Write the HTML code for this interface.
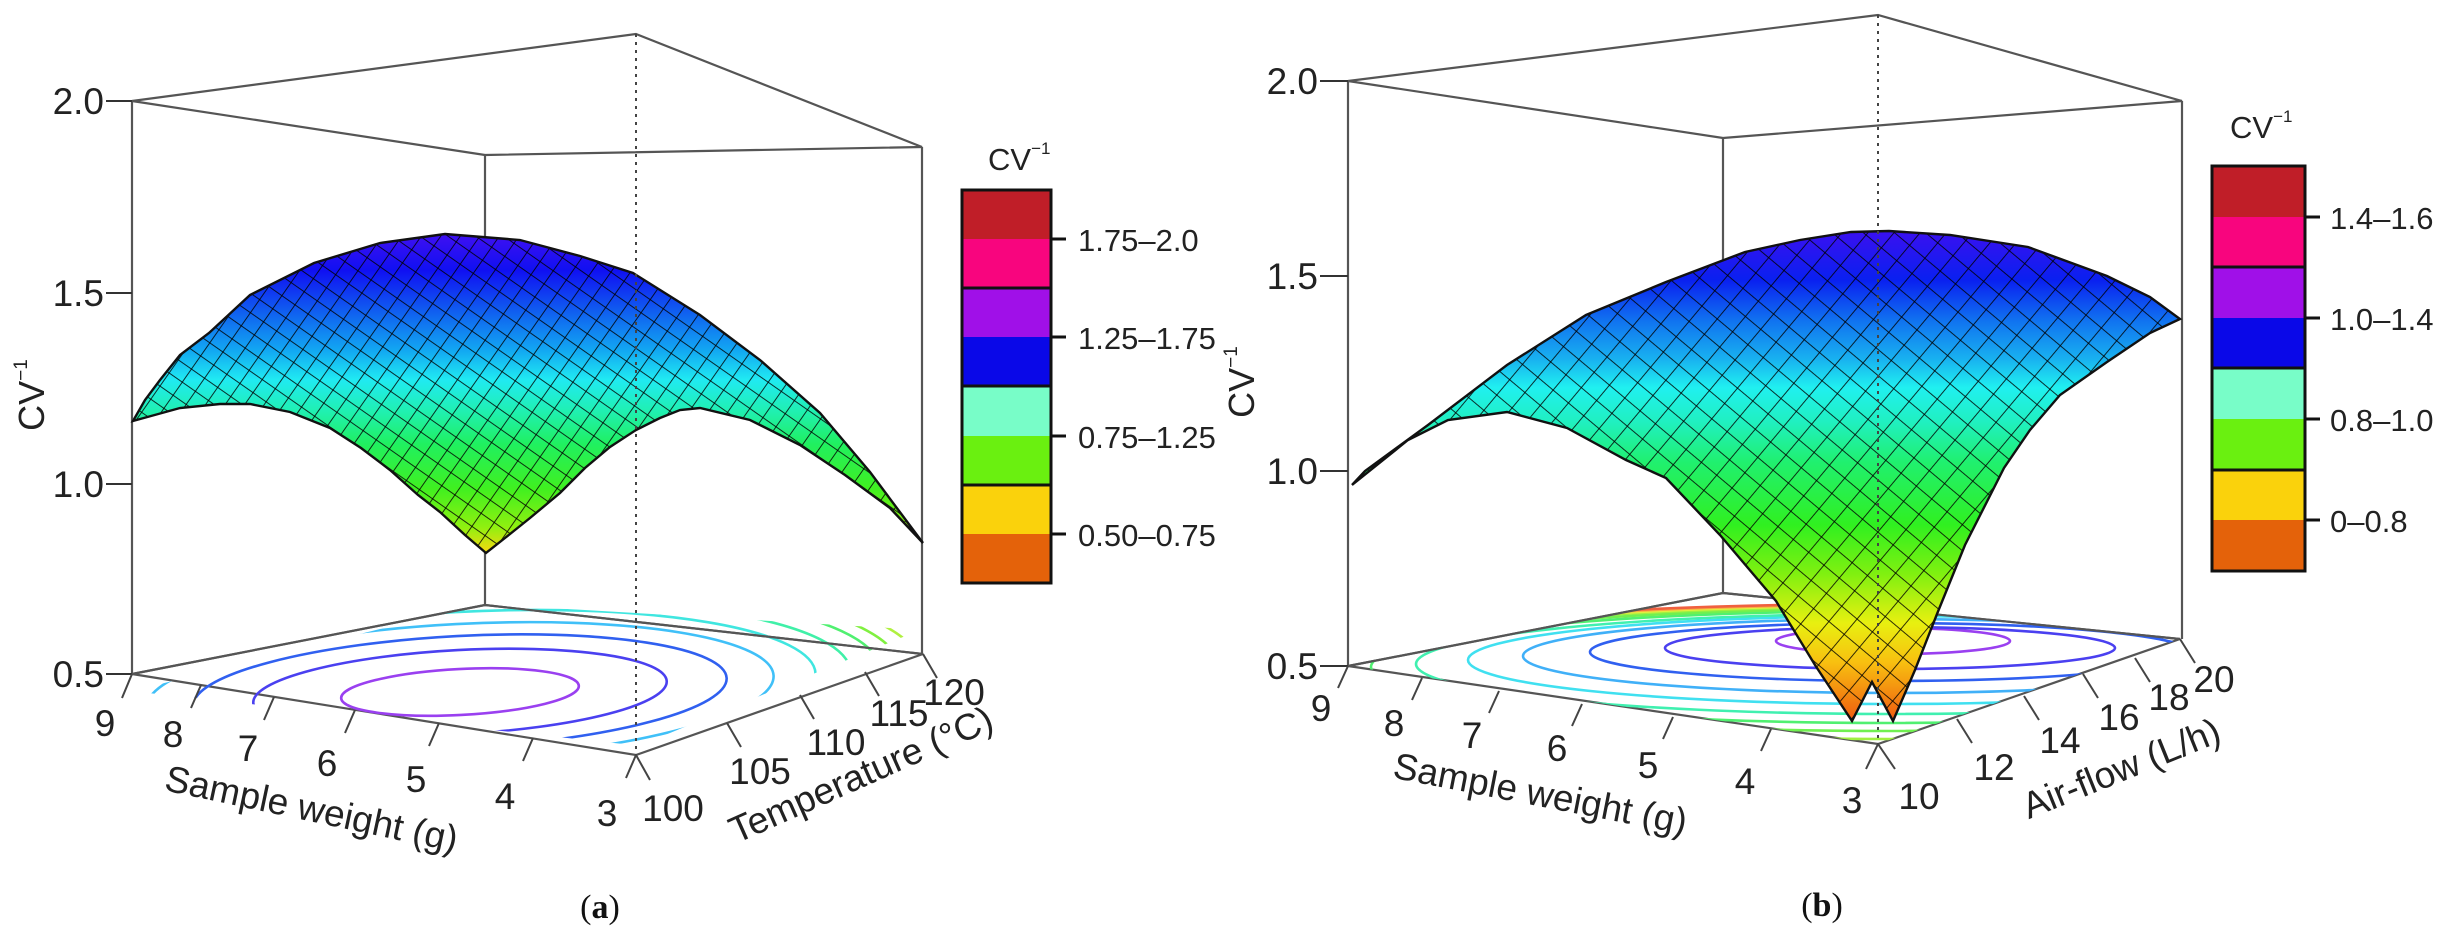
<!DOCTYPE html>
<html><head><meta charset="utf-8"><style>
html,body{margin:0;padding:0;background:#fff;}
svg{display:block;font-family:"Liberation Sans",Arial,sans-serif;}
</style></head><body>
<svg width="2450" height="950" viewBox="0 0 2450 950" xmlns="http://www.w3.org/2000/svg">
<defs>
<linearGradient id="ga" gradientUnits="userSpaceOnUse" x1="0" y1="232" x2="0" y2="553">
<stop offset="0" stop-color="#4210f2"/><stop offset="0.12" stop-color="#1010f2"/>
<stop offset="0.25" stop-color="#1060f0"/><stop offset="0.37" stop-color="#12a8f2"/>
<stop offset="0.46" stop-color="#20eaf2"/><stop offset="0.56" stop-color="#20f0b0"/>
<stop offset="0.66" stop-color="#20f060"/><stop offset="0.8" stop-color="#40f020"/>
<stop offset="0.92" stop-color="#90f010"/><stop offset="1" stop-color="#f8d810"/>
</linearGradient>
<linearGradient id="gb" gradientUnits="userSpaceOnUse" x1="0" y1="231" x2="0" y2="721">
<stop offset="0" stop-color="#3a10f0"/><stop offset="0.1" stop-color="#0a20f0"/>
<stop offset="0.18" stop-color="#1070f0"/><stop offset="0.26" stop-color="#18b0f0"/>
<stop offset="0.32" stop-color="#20f0f0"/><stop offset="0.39" stop-color="#20f0c0"/>
<stop offset="0.47" stop-color="#20f070"/><stop offset="0.6" stop-color="#30f020"/>
<stop offset="0.7" stop-color="#80f010"/><stop offset="0.8" stop-color="#e8f010"/>
<stop offset="0.88" stop-color="#f8c010"/><stop offset="1" stop-color="#f05a10"/>
</linearGradient>
<pattern id="mesh" patternUnits="userSpaceOnUse" width="16" height="16" patternTransform="rotate(35)">
<line x1="0" y1="0" x2="16" y2="0" stroke="#000" stroke-width="2" stroke-opacity="0.8"/>
<line x1="0" y1="0" x2="0" y2="16" stroke="#000" stroke-width="2" stroke-opacity="0.8"/>
</pattern>
<pattern id="meshb" patternUnits="userSpaceOnUse" width="20" height="20" patternTransform="rotate(40)">
<line x1="0" y1="0" x2="20" y2="0" stroke="#000" stroke-width="2" stroke-opacity="0.8"/>
<line x1="0" y1="0" x2="0" y2="20" stroke="#000" stroke-width="2" stroke-opacity="0.8"/>
</pattern>
<clipPath id="fa"><polygon points="132,674 485,605 923,654 636,755"/></clipPath>
<clipPath id="fb"><polygon points="1348,666 1723,593 2180,639 1878,744"/></clipPath>
</defs>

<!-- ================= PANEL A ================= -->
<g stroke="#555" stroke-width="2.2" fill="none">
<polyline points="132,101 636,34 922,147 485,155 132,101"/>
<line x1="132" y1="101" x2="132" y2="674"/>
<line x1="485" y1="155" x2="485" y2="605"/>
<line x1="922" y1="147" x2="922" y2="654"/>
<polyline points="132,674 485,605 923,654 636,755 132,674"/>
</g>
<g clip-path="url(#fa)" fill="none" stroke-width="2.6" transform="rotate(-3 460 692)">
<ellipse cx="460" cy="692" rx="119" ry="23" stroke="#9a40f0"/>
<ellipse cx="460" cy="692" rx="207" ry="42" stroke="#4a40f0"/>
<ellipse cx="460" cy="692" rx="267" ry="56" stroke="#3060f0"/>
<ellipse cx="460" cy="692" rx="314" ry="68" stroke="#40c0f8"/>
<ellipse cx="460" cy="692" rx="356" ry="80" stroke="#40e6e0"/>
<ellipse cx="460" cy="692" rx="391" ry="90" stroke="#40f0a8"/>
<ellipse cx="460" cy="692" rx="421" ry="100" stroke="#50f070"/>
<ellipse cx="460" cy="692" rx="441" ry="108" stroke="#80f040"/>
<ellipse cx="460" cy="692" rx="462" ry="115" stroke="#b0f040"/>
</g>
<g stroke="#555" stroke-width="2.2" fill="none">
<polyline points="132,674 485,605 923,654"/>
</g>
<path d="M133,421 L145,400 160,380 180,355 209,333 250,295 314,263 380,243 445,234 520,240 580,256 633,273 700,315 760,360 820,413 870,472 923,543 L890,508 845,475 800,445 750,420 700,408 680,410 660,418 636,430 610,447 585,468 560,493 530,518 505,538 486,553 465,535 440,512 418,495 390,470 361,448 330,428 290,412 250,404 220,404 180,408 Z" fill="url(#ga)"/>
<path d="M133,421 L145,400 160,380 180,355 209,333 250,295 314,263 380,243 445,234 520,240 580,256 633,273 700,315 760,360 820,413 870,472 923,543 L890,508 845,475 800,445 750,420 700,408 680,410 660,418 636,430 610,447 585,468 560,493 530,518 505,538 486,553 465,535 440,512 418,495 390,470 361,448 330,428 290,412 250,404 220,404 180,408 Z" fill="url(#mesh)" stroke="#111" stroke-width="2.4"/>
<line x1="636" y1="34" x2="636" y2="755" stroke="#444" stroke-width="2" stroke-dasharray="3,5"/>
<g stroke="#333" stroke-width="2"><line x1="106" y1="101" x2="132" y2="101"/><line x1="106" y1="293" x2="132" y2="293"/><line x1="106" y1="484" x2="132" y2="484"/><line x1="106" y1="674" x2="132" y2="674"/></g>
<g font-size="37" fill="#222" text-anchor="end"><text x="104" y="114">2.0</text><text x="104" y="306">1.5</text><text x="104" y="497">1.0</text><text x="104" y="687">0.5</text></g>
<text transform="translate(44,395) rotate(-90)" font-size="36" fill="#222" text-anchor="middle">CV<tspan font-size="19" dy="-17">−1</tspan></text>
<g stroke="#444" stroke-width="2">
<line x1="132" y1="674" x2="122" y2="698"/><line x1="201" y1="685" x2="191" y2="708"/><line x1="274" y1="697" x2="264" y2="720"/>
<line x1="355" y1="710" x2="345" y2="733"/><line x1="439" y1="723" x2="429" y2="746"/><line x1="533" y1="738" x2="523" y2="761"/>
<line x1="636" y1="755" x2="626" y2="778"/><line x1="636" y1="755" x2="650" y2="780"/>
<line x1="727" y1="723" x2="741" y2="747"/><line x1="800" y1="695" x2="814" y2="719"/><line x1="865" y1="672" x2="879" y2="696"/><line x1="923" y1="654" x2="937" y2="678"/>
</g>
<g font-size="37" fill="#222" text-anchor="middle">
<text x="105" y="736">9</text><text x="173" y="747">8</text><text x="248" y="761">7</text><text x="327" y="776">6</text><text x="416" y="792">5</text><text x="505" y="809">4</text><text x="607" y="826">3</text>
<text x="673" y="821">100</text><text x="760" y="784">105</text><text x="836" y="755">110</text><text x="899" y="726">115</text><text x="954" y="705">120</text>
</g>
<text transform="translate(309,821) rotate(12)" font-size="37" fill="#222" text-anchor="middle">Sample weight (g)</text>
<text transform="translate(866,786) rotate(-24)" font-size="37" fill="#222" text-anchor="middle">Temperature (°C)</text>
<g stroke="none">
<rect x="962" y="190" width="89" height="49" fill="#c01e28"/><rect x="962" y="239" width="89" height="49" fill="#f8057e"/>
<rect x="962" y="288" width="89" height="49" fill="#a010e8"/><rect x="962" y="337" width="89" height="49" fill="#0a08e8"/>
<rect x="962" y="386" width="89" height="50" fill="#78fdc8"/><rect x="962" y="436" width="89" height="49" fill="#6af010"/>
<rect x="962" y="485" width="89" height="49" fill="#fad20c"/><rect x="962" y="534" width="89" height="49" fill="#e4620a"/>
</g>
<g stroke="#111" stroke-width="3" fill="none"><rect x="962" y="190" width="89" height="393"/><line x1="962" y1="288" x2="1051" y2="288"/><line x1="962" y1="386" x2="1051" y2="386"/><line x1="962" y1="485" x2="1051" y2="485"/>
<line x1="1051" y1="239" x2="1066" y2="239"/><line x1="1051" y1="337" x2="1066" y2="337"/><line x1="1051" y1="436" x2="1066" y2="436"/><line x1="1051" y1="534" x2="1066" y2="534"/></g>
<g font-size="31" fill="#222"><text x="1078" y="251">1.75–2.0</text><text x="1078" y="349">1.25–1.75</text><text x="1078" y="448">0.75–1.25</text><text x="1078" y="546">0.50–0.75</text></g>
<text x="988" y="170" font-size="31" fill="#222">CV<tspan font-size="17" dy="-16">−1</tspan></text>
<text x="600" y="918" font-size="34" fill="#111" text-anchor="middle" font-family="Liberation Serif,serif">(<tspan font-weight="bold">a</tspan>)</text>

<!-- ================= PANEL B ================= -->
<g stroke="#555" stroke-width="2.2" fill="none">
<polyline points="1348,81 1878,15 2182,101 1723,138 1348,81"/>
<line x1="1348" y1="81" x2="1348" y2="666"/>
<line x1="1723" y1="138" x2="1723" y2="593"/>
<line x1="2182" y1="101" x2="2182" y2="639"/>
<polyline points="1348,666 1723,593 2180,639 1878,744 1348,666"/>
</g>
<g clip-path="url(#fb)" fill="none" stroke-width="2.6">
<ellipse cx="1893" cy="641" rx="117" ry="13" stroke="#9a40f0"/>
<ellipse cx="1890" cy="648" rx="225" ry="21" stroke="#4a40f0"/>
<ellipse cx="1890" cy="652" rx="300" ry="29" stroke="#3060f0"/>
<ellipse cx="1890" cy="656" rx="367" ry="37" stroke="#40b0f8"/>
<ellipse cx="1890" cy="660" rx="422" ry="44" stroke="#40e0f0"/>
<ellipse cx="1890" cy="664" rx="474" ry="50" stroke="#40f0b0"/>
<ellipse cx="1890" cy="667" rx="519" ry="56" stroke="#50f070"/>
<ellipse cx="1890" cy="670" rx="560" ry="61" stroke="#70f050"/>
<ellipse cx="1890" cy="673" rx="595" ry="66" stroke="#a0f040"/>
<ellipse cx="1890" cy="676" rx="625" ry="70" stroke="#e0f040"/>
<ellipse cx="1890" cy="679" rx="650" ry="74" stroke="#f8b040"/>
<ellipse cx="1890" cy="682" rx="672" ry="78" stroke="#f06040"/>
</g>
<g stroke="#555" stroke-width="2.2" fill="none"><polyline points="1348,666 1723,593 2180,639"/></g>
<path d="M1352,485 L1365,471 1428,425 1507,365 1586,315 1666,282 1745,252 1800,240 1851,232 1889,231 1950,235 2028,247 2107,276 2150,297 2180,319 L2150,333 2107,362 2060,395 2030,430 2004,468 1965,545 1937,614 1915,670 1893,721 1872,682 1852,721 1815,665 1776,601 1720,535 1666,478 1626,460 1567,428 1507,412 1448,420 1408,440 Z" fill="url(#gb)"/>
<path d="M1352,485 L1365,471 1428,425 1507,365 1586,315 1666,282 1745,252 1800,240 1851,232 1889,231 1950,235 2028,247 2107,276 2150,297 2180,319 L2150,333 2107,362 2060,395 2030,430 2004,468 1965,545 1937,614 1915,670 1893,721 1872,682 1852,721 1815,665 1776,601 1720,535 1666,478 1626,460 1567,428 1507,412 1448,420 1408,440 Z" fill="url(#meshb)" stroke="#111" stroke-width="2.4"/>
<line x1="1878" y1="15" x2="1878" y2="744" stroke="#444" stroke-width="2" stroke-dasharray="3,5"/>
<g stroke="#333" stroke-width="2"><line x1="1320" y1="81" x2="1348" y2="81"/><line x1="1320" y1="276" x2="1348" y2="276"/><line x1="1320" y1="471" x2="1348" y2="471"/><line x1="1320" y1="666" x2="1348" y2="666"/></g>
<g font-size="37" fill="#222" text-anchor="end"><text x="1318" y="94">2.0</text><text x="1318" y="289">1.5</text><text x="1318" y="484">1.0</text><text x="1318" y="679">0.5</text></g>
<text transform="translate(1254,382) rotate(-90)" font-size="36" fill="#222" text-anchor="middle">CV<tspan font-size="19" dy="-17">−1</tspan></text>
<g stroke="#444" stroke-width="2">
<line x1="1348" y1="666" x2="1338" y2="688"/><line x1="1422" y1="678" x2="1412" y2="700"/><line x1="1499" y1="691" x2="1489" y2="713"/>
<line x1="1582" y1="704" x2="1572" y2="726"/><line x1="1673" y1="717" x2="1663" y2="739"/><line x1="1771" y1="729" x2="1761" y2="751"/>
<line x1="1878" y1="744" x2="1866" y2="769"/><line x1="1878" y1="744" x2="1895" y2="769"/>
<line x1="1957" y1="719" x2="1972" y2="743"/><line x1="2024" y1="696" x2="2039" y2="720"/><line x1="2083" y1="674" x2="2098" y2="698"/><line x1="2135" y1="658" x2="2150" y2="682"/><line x1="2180" y1="639" x2="2195" y2="663"/>
</g>
<g font-size="37" fill="#222" text-anchor="middle">
<text x="1321" y="721">9</text><text x="1394" y="736">8</text><text x="1472" y="748">7</text><text x="1557" y="761">6</text><text x="1648" y="778">5</text><text x="1745" y="794">4</text><text x="1852" y="813">3</text>
<text x="1919" y="809">10</text><text x="1994" y="780">12</text><text x="2060" y="753">14</text><text x="2119" y="730">16</text><text x="2169" y="710">18</text><text x="2214" y="692">20</text>
</g>
<text transform="translate(1538,806) rotate(11)" font-size="37" fill="#222" text-anchor="middle">Sample weight (g)</text>
<text transform="translate(2126,780) rotate(-22)" font-size="37" fill="#222" text-anchor="middle">Air-flow (L/h)</text>
<g>
<rect x="2212" y="166" width="93" height="51" fill="#c01e28"/><rect x="2212" y="217" width="93" height="50" fill="#f8057e"/>
<rect x="2212" y="267" width="93" height="51" fill="#a010e8"/><rect x="2212" y="318" width="93" height="50" fill="#0a08e8"/>
<rect x="2212" y="368" width="93" height="51" fill="#78fdc8"/><rect x="2212" y="419" width="93" height="51" fill="#6af010"/>
<rect x="2212" y="470" width="93" height="50" fill="#fad20c"/><rect x="2212" y="520" width="93" height="51" fill="#e4620a"/>
</g>
<g stroke="#111" stroke-width="3" fill="none"><rect x="2212" y="166" width="93" height="405"/><line x1="2212" y1="267" x2="2305" y2="267"/><line x1="2212" y1="368" x2="2305" y2="368"/><line x1="2212" y1="470" x2="2305" y2="470"/>
<line x1="2305" y1="217" x2="2320" y2="217"/><line x1="2305" y1="318" x2="2320" y2="318"/><line x1="2305" y1="419" x2="2320" y2="419"/><line x1="2305" y1="520" x2="2320" y2="520"/></g>
<g font-size="31" fill="#222"><text x="2330" y="229">1.4–1.6</text><text x="2330" y="330">1.0–1.4</text><text x="2330" y="431">0.8–1.0</text><text x="2330" y="532">0–0.8</text></g>
<text x="2230" y="138" font-size="31" fill="#222">CV<tspan font-size="17" dy="-16">−1</tspan></text>
<text x="1822" y="916" font-size="34" fill="#111" text-anchor="middle" font-family="Liberation Serif,serif">(<tspan font-weight="bold">b</tspan>)</text>
</svg>
</body></html>
